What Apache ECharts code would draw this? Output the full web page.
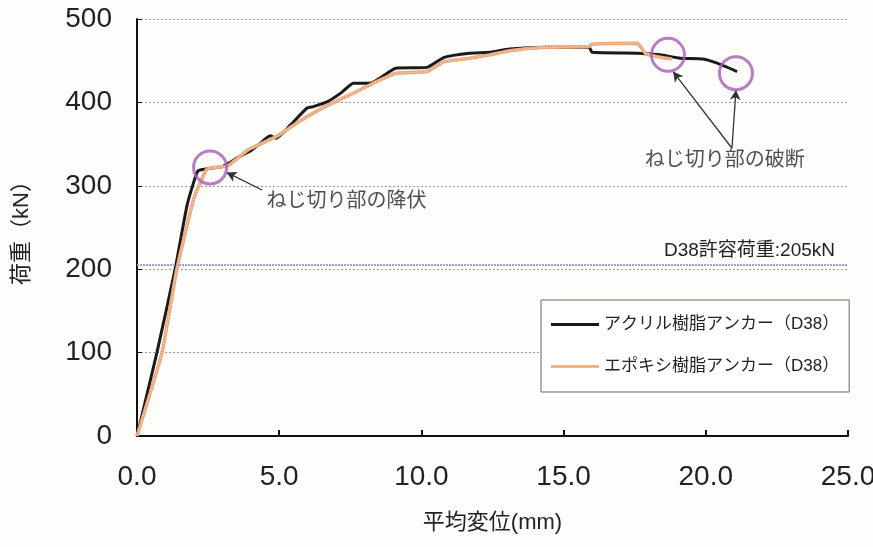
<!DOCTYPE html>
<html><head><meta charset="utf-8">
<script src="https://cdn.jsdelivr.net/npm/echarts@6/dist/echarts.min.js"></script>
<style>html,body{margin:0;padding:0;background:#fdfdfb;}#c{width:873px;height:547px;}</style>
</head><body><div id="c"></div>
<script>
// Data
const acrylicX = [0,0.7,1.34,1.75,2.0,2.15,2.6,3.0,3.27,3.6,4.0,4.3,4.68,4.9,5.4,5.97,6.2,6.7,7.2,7.6,8.2,9.1,10.2,10.8,11.7,12.4,13.1,14.4,15.9,16.0,17.6,18.4,19.1,19.9,20.4,21.1];
const acrylicY = [0,100,200,275,305,318,321,323,328,335,342,350,360,357,373,393,395,401,412,423,423,441,442,454,459,460,464,466,466,460,459,457,453,452,447,437];
const epoxyX = [0,0.88,1.4,2.0,2.46,3.2,3.9,4.9,5.7,6.4,7.1,7.6,8.3,9.1,10.2,10.8,11.7,12.4,13.1,14.4,15.9,16.0,17.6,17.7,17.9,18.8];
const epoxyY = [0,100,200,285,320,324,343,359,377,391,403,411,423,435,437,449,453,457,462,466,467,470,471,467,458,452];
const seriesNames = ['アクリル樹脂アンカー（D38）','エポキシ樹脂アンカー（D38）'];
const allowableLoad = 205;
const allowableLabel = 'D38許容荷重:205kN';
const circleX = [2.57,18.67,21.06];
const circleY = [322,457,435];
const yieldText = 'ねじ切り部の降伏';
const yieldTextPos = [4.55,281];
const yieldArrow = [[4.4,295],[3.15,316]];
const breakText = 'ねじ切り部の破断';
const breakTextPos = [20.67,330];
const breakArrows = [[[20.92,345],[18.85,437]],[[20.92,345],[21.06,415]]];
const xTicks = [0,5,10,15,20,25];
const yTicks = [0,100,200,300,400,500];

const pairs = (xs, ys) => xs.map((x, i) => [x, ys[i]]);
const chart = echarts.init(document.getElementById('c'));
const font = '"Liberation Sans", Arial, "Noto Sans CJK JP", sans-serif';
const arrowLines = [yieldArrow, ...breakArrows].map(a => [{coord:a[0]},{coord:a[1]}]);

chart.setOption({
  backgroundColor: '#fdfdfb',
  animation: false,
  textStyle: {fontFamily: font},
  grid: {left: 137, right: 25, top: 19, bottom: 111, containLabel: false, outerBoundsMode: 'none'},
  legend: {
    orient: 'vertical', left: 541, top: 300,
    padding: [16, 10, 17, 10], itemGap: 25,
    backgroundColor: '#ffffff', borderColor: '#666', borderWidth: 1, borderRadius: 0,
    itemWidth: 48, itemHeight: 10,
    textStyle: {fontSize: 17, color: '#222', fontFamily: font},
    data: [
      {name: seriesNames[0], icon: 'path://M0,4 L48,4 L48,7 L0,7 Z', itemStyle: {color: '#1a1a1a'}},
      {name: seriesNames[1], icon: 'path://M0,4 L48,4 L48,6.5 L0,6.5 Z', itemStyle: {color: '#eba67a'}}
    ]
  },
  xAxis: {
    type: 'value', min: 0, max: 25, interval: 5,
    name: '平均変位(mm)', nameLocation: 'middle', nameGap: 76,
    nameTextStyle: {fontSize: 22, color: '#222', fontFamily: font},
    axisLine: {lineStyle: {color: '#111', width: 2}},
    axisTick: {inside: true, length: 6, lineStyle: {color: '#111', width: 2}},
    axisLabel: {fontSize: 28, color: '#222', margin: 27, formatter: v => v.toFixed(1)},
    splitLine: {show: false}
  },
  yAxis: {
    type: 'value', min: 0, max: 500, interval: 100,
    name: '荷重（kN）', nameLocation: 'middle', nameGap: 104, nameRotate: 90,
    nameTextStyle: {fontSize: 22, color: '#222', fontFamily: font},
    axisLine: {show: true, lineStyle: {color: '#111', width: 2}},
    axisTick: {show: true, inside: true, length: 5, lineStyle: {color: '#111', width: 1}},
    axisLabel: {fontSize: 28, color: '#222', margin: 25},
    splitLine: {show: true, lineStyle: {color: '#999', width: 1, type: [2, 2]}}
  },
  series: [
    {
      name: seriesNames[0], type: 'line', data: pairs(acrylicX, acrylicY),
      showSymbol: false, smooth: 0.15, z: 3,
      lineStyle: {color: '#1a1a1a', width: 3},
      itemStyle: {color: '#1a1a1a'},
      markLine: {
        silent: true, symbol: 'none',
        lineStyle: {color: '#a79bd0', width: 2, type: [2, 1]},
        label: {show: true, position: 'insideEndTop', formatter: allowableLabel, fontSize: 19, color: '#222', distance: [13, 5]},
        data: [{yAxis: allowableLoad}]
      }
    },
    {
      name: seriesNames[1], type: 'line', data: pairs(epoxyX, epoxyY),
      showSymbol: false, smooth: 0.12, z: 4,
      lineStyle: {color: '#eba67a', width: 3.5},
      itemStyle: {color: '#eba67a'}
    },
    {
      name: 'overlay', type: 'line', data: pairs(epoxyX, epoxyY),
      showSymbol: false, smooth: 0.12, z: 5, silent: true,
      lineStyle: {color: '#fff3e8', width: 1, type: [1, 2]},
      tooltip: {show: false}
    },
    {
      name: 'circles', type: 'scatter', data: pairs(circleX, circleY), z: 6,
      symbol: 'circle', symbolSize: 33,
      itemStyle: {color: 'rgba(0,0,0,0)', borderColor: '#a65cb8', borderWidth: 3}
    },
    {
      name: 'annot', type: 'scatter', z: 7, symbolSize: 0,
      data: [
        {value: yieldTextPos, label: {show: true, formatter: yieldText, position: 'right', distance: 0}},
        {value: breakTextPos, label: {show: true, formatter: breakText, position: 'inside'}}
      ],
      label: {fontSize: 20, color: '#222', fontFamily: font},
      markLine: {
        silent: true, symbol: ['none', 'arrow'], symbolSize: [8, 10],
        lineStyle: {color: '#333', width: 1.3, type: 'solid'},
        label: {show: false},
        data: arrowLines
      }
    }
  ]
});
</script></body></html>
